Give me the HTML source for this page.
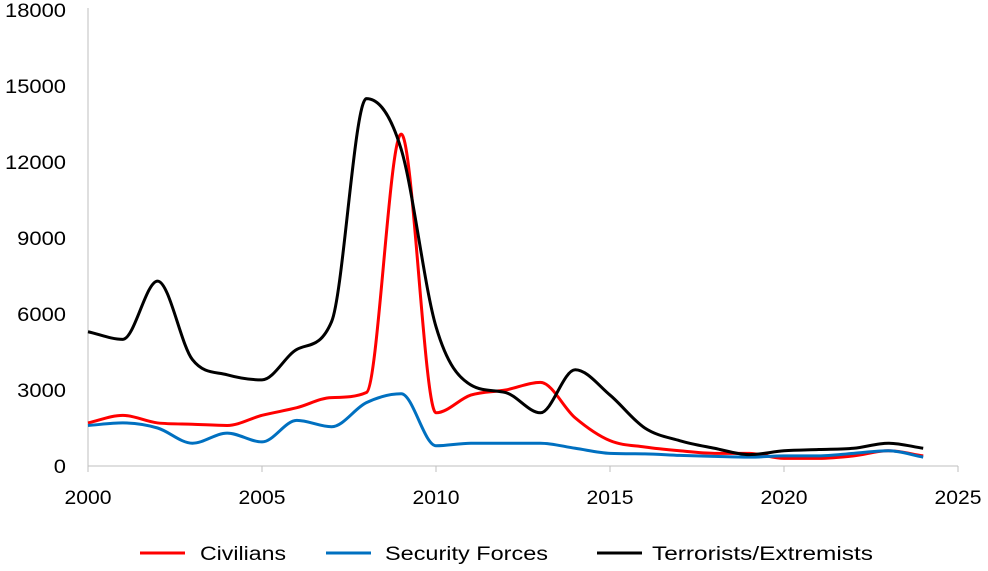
<!DOCTYPE html>
<html><head><meta charset="utf-8"><style>
body{margin:0;background:#fff;}
svg{display:block;font-family:"Liberation Sans",sans-serif;}
</style></head><body>
<svg id="chart" width="988" height="571">
<g id="grid"></g><g id="series"></g><g id="legend"></g>
</svg>
<script>
const years=[2000,2001,2002,2003,2004,2005,2006,2007,2008,2009,2010,2011,2012,2013,2014,2015,2016,2017,2018,2019,2020,2021,2022,2023,2024];
const civilians=[1700,2000,1700,1650,1600,2000,2300,2700,2900,13100,2100,2800,3000,3300,1900,1000,750,600,500,500,300,300,400,600,400];
const security=[1600,1700,1500,900,1300,950,1800,1550,2500,2850,800,900,900,900,700,500,480,420,380,350,400,400,500,600,350];
const terrorists=[5300,5000,7300,4200,3600,3400,4600,5700,14500,12500,5500,3200,2900,2100,3800,2800,1500,1000,700,450,600,650,700,900,700];
const yTicks=[0,3000,6000,9000,12000,15000,18000];
const xTicks=[2000,2005,2010,2015,2020,2025];
const NS="http://www.w3.org/2000/svg";
const X=v=>88+(v-2000)*34.8, Y=v=>466-v*(456/18000);
const grid=document.getElementById('grid'),ser=document.getElementById('series'),leg=document.getElementById('legend');
function mk(t,a,p){const e=document.createElementNS(NS,t);for(const k in a)e.setAttribute(k,a[k]);p.appendChild(e);return e;}
let ax=mk('line',{x1:88,y1:8,x2:88,y2:466,stroke:'#bfbfbf'},grid);


let bx=mk('line',{x1:88,y1:466,x2:958,y2:466,stroke:'#bfbfbf'},grid);


yTicks.forEach(v=>{const s=String(v);const t=mk('text',{x:66,y:Y(v)+7,'text-anchor':'end','font-size':19,fill:'#000',textLength:s.length*12.2,lengthAdjust:'spacingAndGlyphs'},grid);t.textContent=s;

});
xTicks.forEach(v=>{mk('line',{x1:X(v),y1:466,x2:X(v),y2:472,stroke:'#bfbfbf'},grid);
const t=mk('text',{x:X(v),y:504,'text-anchor':'middle','font-size':19,fill:'#000',textLength:47,lengthAdjust:'spacingAndGlyphs'},grid);t.textContent=v;

});
function path(vals){const p=vals.map((v,i)=>[X(years[i]),Y(v)]);const n=p.length;
const d=[],m=[];for(let i=0;i<n-1;i++)d.push((p[i+1][1]-p[i][1])/(p[i+1][0]-p[i][0]));
m[0]=d[0];m[n-1]=d[n-2];for(let i=1;i<n-1;i++){m[i]=(d[i-1]*d[i]<=0)?0:(d[i-1]+d[i])/2;}
for(let i=0;i<n-1;i++){if(d[i]===0){m[i]=0;m[i+1]=0;continue;}const a=m[i]/d[i],b=m[i+1]/d[i],s=a*a+b*b;if(s>9){const t=3/Math.sqrt(s);m[i]=t*a*d[i];m[i+1]=t*b*d[i];}}
let s=`M${p[0][0]},${p[0][1]}`;
for(let i=0;i<n-1;i++){const h=(p[i+1][0]-p[i][0])/3;s+=`C${p[i][0]+h},${p[i][1]+m[i]*h} ${p[i+1][0]-h},${p[i+1][1]-m[i+1]*h} ${p[i+1][0]},${p[i+1][1]}`;}return s;}
const S=[['civilians-line',civilians,'#ff0000'],['security-forces-line',security,'#0070c0'],['terrorists-line',terrorists,'#000000']];
S.forEach(s=>{const e=mk('path',{d:path(s[1]),fill:'none',stroke:s[2],'stroke-width':3,'stroke-linejoin':'round'},ser);

});
const L=[['Civilians','#ff0000',140,200,86],['Security Forces','#0070c0',326,385,163],['Terrorists/Extremists','#000000',597,652,221]];
L.forEach(l=>{mk('line',{x1:l[2],y1:553,x2:l[2]+45,y2:553,stroke:l[1],'stroke-width':3},leg);
const t=mk('text',{x:l[3],y:560,'font-size':19,fill:'#000',textLength:l[4],lengthAdjust:'spacingAndGlyphs'},leg);t.textContent=l[0];

});
</script>
</body></html>
